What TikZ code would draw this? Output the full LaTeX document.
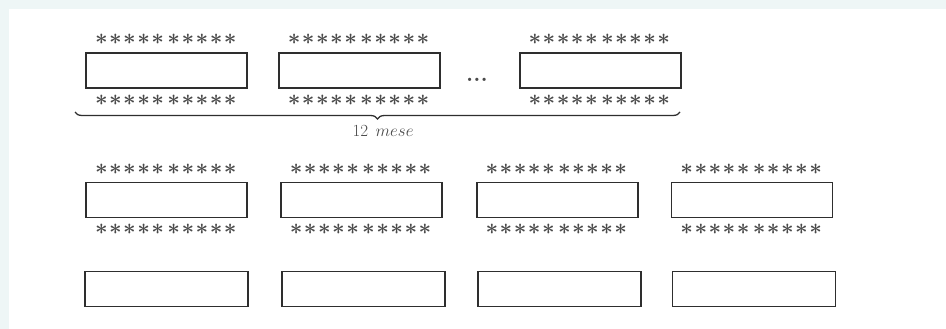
\documentclass[tikz,border=0pt]{standalone}
\usepackage{fix-cm}
\usepackage{amsmath}
\usepackage{xcolor}
\usetikzlibrary{positioning, decorations.pathreplacing}

\definecolor{pagebg}{HTML}{EEF6F6}
\definecolor{stargray}{HTML}{4A4A4A}
\definecolor{slotline}{HTML}{2E2E2E}

% ten asterisks in two groups of five
\newcommand{\oneast}{\mathord{\boldsymbol{\ast}}\mkern1.2mu}
\newcommand{\fiveast}{\oneast\oneast\oneast\oneast\oneast}
\newcommand{\astline}{$\fiveast\mkern1.5mu\fiveast$}

\begin{document}
\begin{tikzpicture}[x=1pt, y=-1pt,
  slot/.style={rectangle, draw=slotline, line width=1.8pt, minimum width=161pt,
               minimum height=35pt, inner sep=0pt},
  stars/.style={font=\fontsize{22}{22}\selectfont, text=stargray, inner sep=0pt},
  brace/.style={decorate, decoration={brace, mirror, amplitude=7pt}, line width=1.3pt, draw=slotline}
]
\useasboundingbox (0,0) rectangle (946,329);
\fill[pagebg] (0,0) rectangle (946,329);
\fill[white] (9,9) rectangle (946,329);

% row 1: months
\node[slot] (m1) at (166.5,70.5) {};
\node[slot, right=30pt of m1] (m2) {};
\node[slot, right=78pt of m2] (m3) {};
\node[font=\fontsize{23}{23}\selectfont\bfseries, text=stargray, anchor=base] (dots) at (477,82) {...};

\node[stars, above=7pt of m1] (m1t) {\astline};
\node[stars, below=6pt of m1] (m1b) {\astline};
\node[stars, above=7pt of m2] (m2t) {\astline};
\node[stars, below=6pt of m2] (m2b) {\astline};
\node[stars, above=7pt of m3] (m3t) {\astline};
\node[stars, below=6pt of m3] (m3b) {\astline};

\coordinate (bl) at (75,112);
\coordinate (br) at (680,112);
\draw[brace] (bl) -- (br);
\node[text=stargray, font=\fontsize{17}{17}\selectfont] (span) at (383,131) {$12\;\,mese$};

% row 2
\node[slot] (q1) at (166.5,200) {};
\node[slot, right=32pt of q1] (q2) {};
\node[slot, right=33pt of q2] (q3) {};
\node[slot, right=32pt of q3] (q4) {};
\foreach \q in {q1,q2,q3,q4} {
  \node[stars, above=7pt of \q] (\q t) {\astline};
  \node[stars, below=6pt of \q] (\q b) {\astline};
}

% row 3
\node[slot, minimum width=163pt] (r1) at (166.5,289) {};
\node[slot, minimum width=163pt, right=32pt of r1] (r2) {};
\node[slot, minimum width=163pt, right=31pt of r2] (r3) {};
\node[slot, minimum width=163pt, right=30pt of r3] (r4) {};
\end{tikzpicture}
\end{document}
